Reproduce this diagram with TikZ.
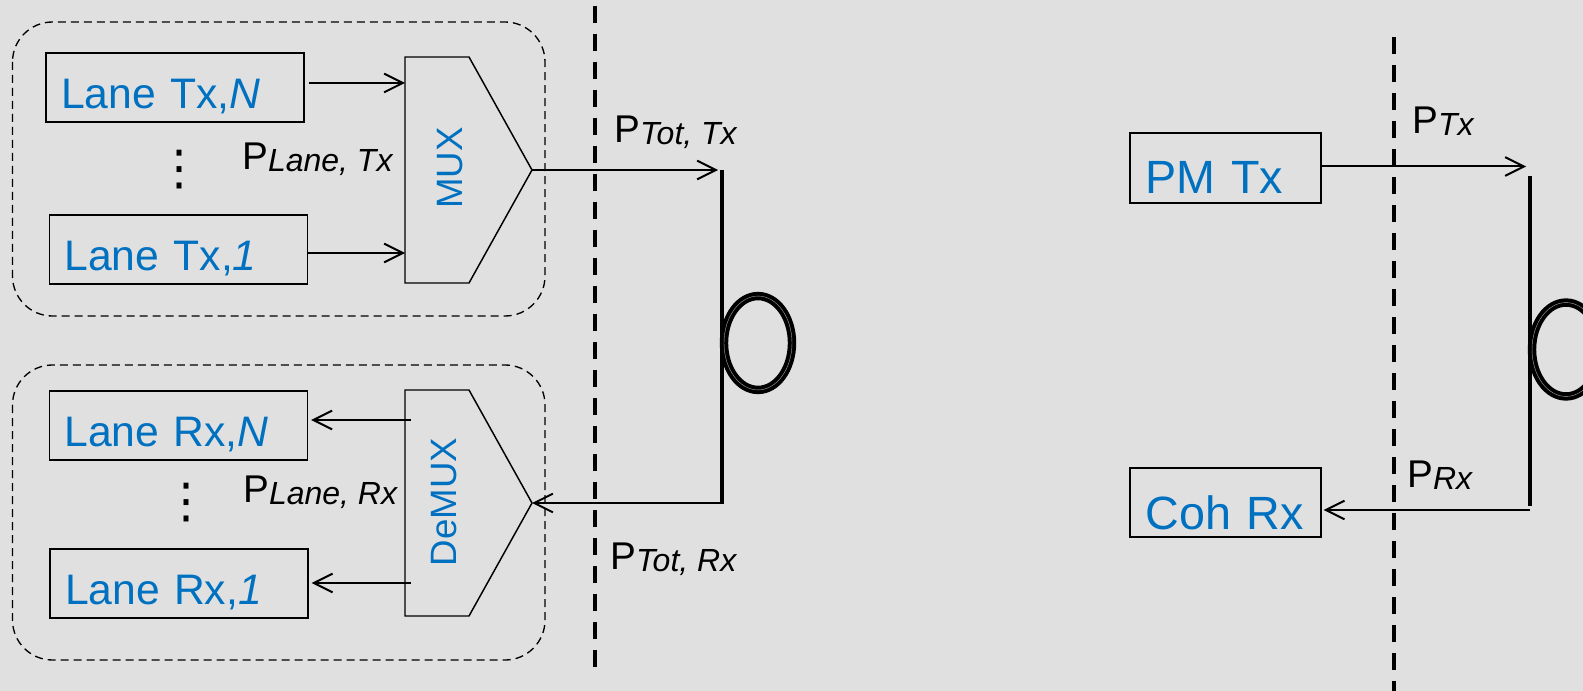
\documentclass[tikz,border=0pt]{standalone}
\usepackage{fontspec}
\setmainfont{Liberation Sans}
\newfontfamily\symfont{DejaVu Sans}
\usetikzlibrary{arrows.meta}
\definecolor{bgc}{RGB}{224,224,224}
\definecolor{lblue}{RGB}{0,112,192}
\newcommand\plabtext[1]{{\fontsize{29}{30}\selectfont P}\raisebox{-1.5pt}{\fontsize{24}{25}\selectfont\itshape #1}}
\begin{document}
\begin{tikzpicture}[x=0.75pt,y=-0.75pt,
  lanebox/.style={draw=black, line width=1.1pt, inner xsep=11.25pt, inner ysep=0pt,
    text width=171pt, align=left, text height=41.65pt, text depth=10.1pt,
    text=lblue, font=\fontsize{32}{34}\selectfont},
  pmbox/.style={draw=black, line width=1.1pt, inner xsep=11.55pt, inner ysep=0pt,
    text width=120pt, align=left, text height=45.75pt, text depth=6.75pt,
    text=lblue, font=\fontsize{35}{38}\selectfont},
  region/.style={draw=black, line width=1pt, dash pattern=on 6pt off 3.75pt, rounded corners=30pt},
  sepline/.style={draw=black, line width=3pt, dash pattern=on 12.75pt off 8.25pt},
  fiber/.style={draw=black, line width=3pt},
  fiberloop/.style={draw=black, line width=3pt, double=black!35, double distance=0.3pt},
  muxshape/.style={draw=black, line width=1.1pt},
  muxlabel/.style={rotate=90, text=lblue, inner sep=0pt, font=\fontsize{27.5}{30}\selectfont},
  arr/.style={draw=black, line width=1.5pt, -{Straight Barb[length=14pt, width=14pt, line width=1.5pt]}},
  plab/.style={anchor=base west, inner sep=0pt, text=black},
  dotsst/.style={inner sep=0pt, text=black, font=\symfont\fontsize{36}{40}\selectfont}
]
\useasboundingbox (0,0) rectangle (1583,691);
\fill[bgc] (0,0) rectangle (1583,691);
\clip (0,0) rectangle (1583,691);

% regions
\draw[region] (12.5,22) rectangle (545,316);
\draw[region] (12.5,365) rectangle (545,660);

% separators
\draw[sepline] (595,6) -- (595,669);
\draw[sepline] (1393.5,37) -- (1393.5,700);

% lane boxes
\node[lanebox] (txN) at (175,87.5) {Lane Tx,\textit{N}};
\node[lanebox] (tx1) at (178.5,249.5) {Lane Tx,\textit{1}};
\node[lanebox] (rxN) at (178.5,425.5) {Lane Rx,\textit{N}};
\node[lanebox] (rx1) at (179,583.5) {Lane Rx,\textit{1}};

\node[dotsst] (dotsTx) at (179,170) {⋮};
\node[dotsst] (dotsRx) at (186,503) {⋮};

% MUX / DeMUX
\draw[muxshape] (405,57) -- (469,57) -- (532,170) -- (469,283) -- (405,283) -- cycle;
\draw[muxshape] (405,390) -- (469,390) -- (532,503) -- (469,616) -- (405,616) -- cycle;
\node[muxlabel] (muxl) at (450.5,168) {MUX};
\node[muxlabel] (dmxl) at (444.5,502) {DeMUX};
\coordinate (muxtip) at (532,170);
\coordinate (muxinN) at (405,83);
\coordinate (muxin1) at (405,253);
\coordinate (dmxtip) at (532,503);
\coordinate (dmxoN) at (411,420);
\coordinate (dmxo1) at (411,583);

\draw[arr, shorten <=3pt] (txN.east |- muxinN) -- (muxinN);
\draw[arr] (tx1.east |- muxin1) -- (muxin1);
\draw[arr, shorten >=2.25pt] (dmxoN) -- (rxN.east |- dmxoN);
\draw[arr, shorten >=2.25pt] (dmxo1) -- (rx1.east |- dmxo1);

% left fiber
\coordinate (fTL) at (722,170);
\coordinate (fBL) at (722,504);
\coordinate (fBLh) at (722,503);
\draw[arr, shorten >=3pt] (muxtip) -- (fTL);
\draw[fiber] (fTL) -- (fBL);
\draw[arr] (fBLh) -- (dmxtip);
\draw[fiberloop] (758,343) ellipse [x radius=25.5pt, y radius=35.2pt];

% right side
\node[pmbox] (pmtx) at (1225.5,168) {PM Tx};
\node[pmbox, text depth=6pt] (cohrx) at (1225.5,502.5) {Coh Rx};
\coordinate (fTR) at (1530,166.5);
\coordinate (fR1) at (1530,176);
\coordinate (fR2) at (1530,506);
\coordinate (fR3) at (1530,510);
\draw[arr, shorten >=3pt] (pmtx.east |- fTR) -- (fTR);
\draw[fiber] (fR1) -- (fR2);
\draw[arr, shorten >=1.5pt] (fR3) -- (cohrx.east |- fR3);
\draw[fiberloop] (1566,349.5) ellipse [x radius=25.5pt, y radius=35.2pt];

% labels
\node[plab] (pLaneTx) at (242,170) {\plabtext{Lane, Tx}};
\node[plab] (pLaneRx) at (243,502) {\plabtext{Lane, Rx}};
\node[plab] (pTotTx) at (614,143) {\plabtext{Tot, Tx}};
\node[plab] (pTotRx) at (610,569) {\plabtext{Tot, Rx}};
\node[plab] (pTx) at (1412,134) {\plabtext{Tx}};
\node[plab] (pRx) at (1407,487) {\plabtext{Rx}};
\end{tikzpicture}
\end{document}
